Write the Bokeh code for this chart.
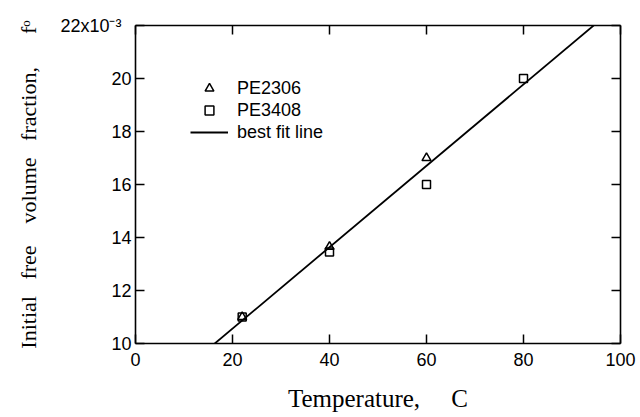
from bokeh.plotting import figure
from bokeh.models import LinearAxis, FixedTicker, Legend, LegendItem, Range1d
from bokeh.embed import file_html
from bokeh.resources import INLINE

# ---- data (free volume fraction in units of 10^-3) ----
temperature_pe2306 = [22, 40, 60]
fo_pe2306 = [11.0, 13.65, 17.0]
temperature_pe3408 = [22, 40, 60, 80]
fo_pe3408 = [11.0, 13.45, 16.0, 20.0]
fit_temperature = [0, 100]
fit_slope = 0.1536
fit_intercept = 7.49
x_ticks = [0, 20, 40, 60, 80, 100]
y_ticks = [10, 12, 14, 16, 18, 20, 22]
y_tick_overrides = {22: "22x10\u207b\u00b3\u00a0\u00a0"}
series_names = ["PE2306", "PE3408", "best fit line"]

fit_fo = [fit_intercept + fit_slope * t for t in fit_temperature]

NB = "\u00a0"
x_label = "Temperature," + NB * 5 + "C"
y_label = ("Initial" + NB * 3 + "free" + NB * 4 + "volume" + NB * 3 +
           "fraction," + NB * 6 + "f\u1d52")

p = figure(width=640, height=417,
           x_range=Range1d(0, 100), y_range=Range1d(10, 22),
           output_backend="svg", toolbar_location=None,
           min_border_left=135, min_border_right=20,
           min_border_top=25, min_border_bottom=74,
           x_axis_label=x_label, y_axis_label=y_label)
p.grid.visible = False
p.outline_line_color = None
p.background_fill_color = "white"
p.border_fill_color = "white"

def style_axis(ax):
    ax.axis_line_width = 1.6
    ax.axis_line_color = "black"
    ax.major_tick_in = 9
    ax.major_tick_out = 0
    ax.major_tick_line_width = 1.5
    ax.major_tick_line_color = "black"
    ax.minor_tick_line_color = None

xa = p.xaxis[0]
ya = p.yaxis[0]
xa.ticker = FixedTicker(ticks=x_ticks)
ya.ticker = FixedTicker(ticks=y_ticks)
ya.major_label_overrides = y_tick_overrides
for ax in (xa, ya):
    style_axis(ax)
    ax.major_label_text_font = "Liberation Sans"
    ax.major_label_text_font_size = "18px"
    ax.major_label_text_color = "black"
    ax.axis_label_text_font = "Liberation Serif"
    ax.axis_label_text_font_style = "normal"
    ax.axis_label_text_color = "black"
xa.major_label_standoff = 9
xa.axis_label_text_font_size = "25px"
xa.axis_label_standoff = 16
ya.major_label_standoff = 4
ya.axis_label_text_font_size = "22px"
ya.axis_label_standoff = 16

top = LinearAxis(ticker=FixedTicker(ticks=x_ticks),
                 major_label_overrides={t: "" for t in x_ticks})
right = LinearAxis(ticker=FixedTicker(ticks=y_ticks),
                   major_label_overrides={t: "" for t in y_ticks})
for ax in (top, right):
    style_axis(ax)
    ax.major_label_text_color = None
    ax.major_label_standoff = 0
p.add_layout(top, "above")
p.add_layout(right, "right")

r_fit = p.line(fit_temperature, fit_fo, line_color="black", line_width=1.8)
r_sq = p.scatter(temperature_pe3408, fo_pe3408, marker="square", size=8,
                 fill_color=None, line_color="black", line_width=1.5)
r_tri = p.scatter(temperature_pe2306, fo_pe2306, marker="triangle", size=9,
                  fill_color=None, line_color="black", line_width=1.5)

legend = Legend(items=[LegendItem(label=series_names[0], renderers=[r_tri]),
                       LegendItem(label=series_names[1], renderers=[r_sq]),
                       LegendItem(label=series_names[2], renderers=[r_fit])],
                location=(55, 200), orientation="vertical",
                padding=0, margin=0, spacing=0,
                glyph_width=38, glyph_height=22, label_height=22,
                label_standoff=9, border_line_color=None,
                background_fill_alpha=0,
                label_text_font="Liberation Sans", label_text_font_size="18px",
                label_text_color="black")
p.add_layout(legend, "center")

open("out.html", "w").write(file_html(p, INLINE))
